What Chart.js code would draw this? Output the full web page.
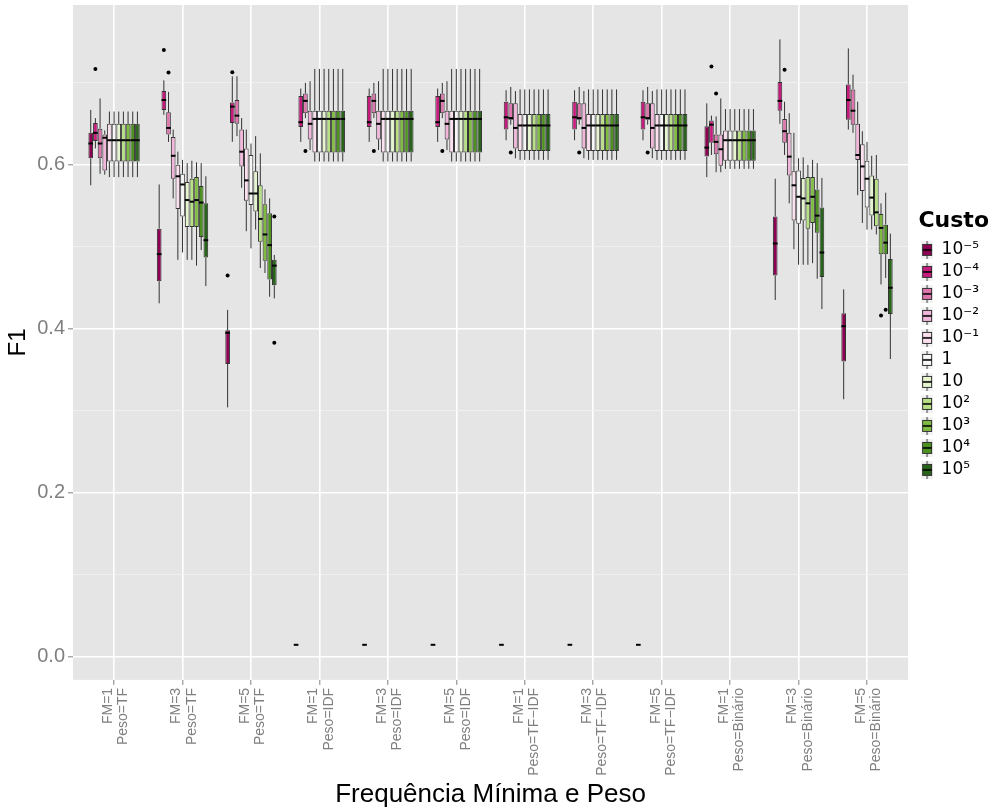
<!DOCTYPE html>
<html>
<head>
<meta charset="utf-8">
<script src="https://cdn.jsdelivr.net/npm/chart.js@4.4.1/dist/chart.umd.min.js"></script>
<style>
  html, body { margin: 0; padding: 0; background: #ffffff; }
</style>
</head>
<body>
<canvas id="f1chart" width="1001" height="810"></canvas>
<script>
// x categories (two line tick labels)
const categories = [
  ['FM=1', 'Peso=TF'], ['FM=3', 'Peso=TF'], ['FM=5', 'Peso=TF'],
  ['FM=1', 'Peso=IDF'], ['FM=3', 'Peso=IDF'], ['FM=5', 'Peso=IDF'],
  ['FM=1', 'Peso=TF\u2212IDF'], ['FM=3', 'Peso=TF\u2212IDF'], ['FM=5', 'Peso=TF\u2212IDF'],
  ['FM=1', 'Peso=Binário'], ['FM=3', 'Peso=Binário'], ['FM=5', 'Peso=Binário']
];

// Custo levels and their colours
const custoLabels = ['10\u207B\u2075', '10\u207B\u2074', '10\u207B\u00B3', '10\u207B\u00B2', '10\u207B\u00B9', '1', '10', '10\u00B2', '10\u00B3', '10\u2074', '10\u2075'];
const custoColors = ['#8E0152', '#C51B7D', '#DE77AE', '#F1B6DA', '#FDE0EF', '#F7F7F7', '#E6F5D0', '#B8E186', '#7FBC41', '#4D9221', '#276419'];

// box stats per category, one row per Custo level: [lower whisker, q1, median, q3, upper whisker]
const fm1TF = [
  [0.575, 0.608, 0.626, 0.639, 0.667],
  [0.620, 0.629, 0.639, 0.651, 0.657],
  [0.589, 0.608, 0.626, 0.644, 0.681],
  [0.588, 0.593, 0.633, 0.637, 0.642],
  [0.585, 0.604, 0.630, 0.650, 0.665],
  [0.585, 0.604, 0.630, 0.650, 0.665],
  [0.585, 0.604, 0.630, 0.650, 0.665],
  [0.585, 0.604, 0.630, 0.650, 0.665],
  [0.585, 0.604, 0.630, 0.650, 0.665],
  [0.585, 0.604, 0.630, 0.650, 0.665],
  [0.585, 0.604, 0.630, 0.650, 0.665]
];
const fm3TF = [
  [0.431, 0.458, 0.491, 0.522, 0.576],
  [0.661, 0.667, 0.679, 0.690, 0.703],
  [0.628, 0.637, 0.645, 0.664, 0.689],
  [0.559, 0.583, 0.611, 0.634, 0.643],
  [0.484, 0.546, 0.586, 0.600, 0.616],
  [0.493, 0.537, 0.576, 0.589, 0.606],
  [0.484, 0.524, 0.557, 0.579, 0.602],
  [0.484, 0.524, 0.555, 0.583, 0.605],
  [0.477, 0.524, 0.557, 0.585, 0.603],
  [0.496, 0.512, 0.554, 0.574, 0.602],
  [0.452, 0.487, 0.508, 0.553, 0.586]
];
const fm5TF = [
  [0.304, 0.357, 0.395, 0.398, 0.423],
  [0.628, 0.651, 0.671, 0.676, 0.708],
  [0.635, 0.650, 0.660, 0.679, 0.708],
  [0.572, 0.598, 0.616, 0.643, 0.657],
  [0.519, 0.556, 0.581, 0.620, 0.643],
  [0.498, 0.551, 0.565, 0.612, 0.626],
  [0.521, 0.543, 0.565, 0.592, 0.635],
  [0.474, 0.506, 0.534, 0.575, 0.614],
  [0.468, 0.483, 0.515, 0.552, 0.570],
  [0.439, 0.460, 0.502, 0.541, 0.559],
  [0.437, 0.453, 0.477, 0.484, 0.490]
];
const fm1IDF = [
  [0.0143, 0.0143, 0.0143, 0.0143, 0.0143],
  [0.628, 0.646, 0.652, 0.684, 0.693],
  [0.657, 0.663, 0.678, 0.687, 0.700],
  [0.618, 0.631, 0.650, 0.666, 0.702],
  [0.604, 0.615, 0.656, 0.666, 0.717],
  [0.604, 0.615, 0.656, 0.666, 0.717],
  [0.604, 0.615, 0.656, 0.666, 0.717],
  [0.604, 0.615, 0.656, 0.666, 0.717],
  [0.604, 0.615, 0.656, 0.666, 0.717],
  [0.604, 0.615, 0.656, 0.666, 0.717],
  [0.604, 0.615, 0.656, 0.666, 0.717]
];
const fm3IDF = [
  [0.0143, 0.0143, 0.0143, 0.0143, 0.0143],
  [0.628, 0.646, 0.652, 0.684, 0.693],
  [0.657, 0.663, 0.678, 0.687, 0.700],
  [0.618, 0.631, 0.650, 0.666, 0.702],
  [0.604, 0.615, 0.656, 0.666, 0.717],
  [0.604, 0.615, 0.656, 0.666, 0.717],
  [0.604, 0.615, 0.656, 0.666, 0.717],
  [0.604, 0.615, 0.656, 0.666, 0.717],
  [0.604, 0.615, 0.656, 0.666, 0.717],
  [0.604, 0.615, 0.656, 0.666, 0.717],
  [0.604, 0.615, 0.656, 0.666, 0.717]
];
const fm5IDF = [
  [0.0143, 0.0143, 0.0143, 0.0143, 0.0143],
  [0.628, 0.646, 0.652, 0.684, 0.693],
  [0.657, 0.663, 0.678, 0.687, 0.700],
  [0.618, 0.631, 0.650, 0.666, 0.702],
  [0.604, 0.615, 0.656, 0.666, 0.717],
  [0.604, 0.615, 0.656, 0.666, 0.717],
  [0.604, 0.615, 0.656, 0.666, 0.717],
  [0.604, 0.615, 0.656, 0.666, 0.717],
  [0.604, 0.615, 0.656, 0.666, 0.717],
  [0.604, 0.615, 0.656, 0.666, 0.717],
  [0.604, 0.615, 0.656, 0.666, 0.717]
];
const fm1TFIDF = [
  [0.0143, 0.0143, 0.0143, 0.0143, 0.0143],
  [0.630, 0.643, 0.658, 0.677, 0.691],
  [0.649, 0.655, 0.657, 0.675, 0.695],
  [0.608, 0.620, 0.645, 0.675, 0.690],
  [0.606, 0.617, 0.648, 0.662, 0.692],
  [0.606, 0.617, 0.648, 0.662, 0.692],
  [0.606, 0.617, 0.648, 0.662, 0.692],
  [0.606, 0.617, 0.648, 0.662, 0.692],
  [0.606, 0.617, 0.648, 0.662, 0.692],
  [0.606, 0.617, 0.648, 0.662, 0.692],
  [0.606, 0.617, 0.648, 0.662, 0.692]
];
const fm3TFIDF = [
  [0.0143, 0.0143, 0.0143, 0.0143, 0.0143],
  [0.630, 0.643, 0.658, 0.677, 0.691],
  [0.649, 0.655, 0.657, 0.675, 0.695],
  [0.608, 0.620, 0.645, 0.675, 0.690],
  [0.606, 0.617, 0.648, 0.662, 0.692],
  [0.606, 0.617, 0.648, 0.662, 0.692],
  [0.606, 0.617, 0.648, 0.662, 0.692],
  [0.606, 0.617, 0.648, 0.662, 0.692],
  [0.606, 0.617, 0.648, 0.662, 0.692],
  [0.606, 0.617, 0.648, 0.662, 0.692],
  [0.606, 0.617, 0.648, 0.662, 0.692]
];
const fm5TFIDF = [
  [0.0143, 0.0143, 0.0143, 0.0143, 0.0143],
  [0.630, 0.643, 0.658, 0.677, 0.691],
  [0.649, 0.655, 0.657, 0.675, 0.695],
  [0.608, 0.620, 0.645, 0.675, 0.690],
  [0.606, 0.617, 0.648, 0.662, 0.692],
  [0.606, 0.617, 0.648, 0.662, 0.692],
  [0.606, 0.617, 0.648, 0.662, 0.692],
  [0.606, 0.617, 0.648, 0.662, 0.692],
  [0.606, 0.617, 0.648, 0.662, 0.692],
  [0.606, 0.617, 0.648, 0.662, 0.692],
  [0.606, 0.617, 0.648, 0.662, 0.692]
];
const fm1Bin = [
  [0.585, 0.610, 0.621, 0.647, 0.675],
  [0.612, 0.627, 0.649, 0.654, 0.660],
  [0.591, 0.613, 0.628, 0.637, 0.659],
  [0.591, 0.599, 0.619, 0.637, 0.681],
  [0.595, 0.605, 0.630, 0.642, 0.668],
  [0.595, 0.605, 0.630, 0.642, 0.668],
  [0.595, 0.605, 0.630, 0.642, 0.668],
  [0.595, 0.605, 0.630, 0.642, 0.668],
  [0.595, 0.605, 0.630, 0.642, 0.668],
  [0.595, 0.605, 0.630, 0.642, 0.668],
  [0.595, 0.605, 0.630, 0.642, 0.668]
];
const fm3Bin = [
  [0.435, 0.465, 0.504, 0.537, 0.583],
  [0.650, 0.666, 0.678, 0.701, 0.753],
  [0.612, 0.627, 0.641, 0.656, 0.677],
  [0.553, 0.587, 0.610, 0.639, 0.663],
  [0.497, 0.532, 0.575, 0.592, 0.639],
  [0.478, 0.528, 0.561, 0.593, 0.608],
  [0.478, 0.532, 0.559, 0.584, 0.609],
  [0.478, 0.522, 0.553, 0.585, 0.600],
  [0.480, 0.529, 0.561, 0.585, 0.606],
  [0.461, 0.517, 0.538, 0.570, 0.602],
  [0.424, 0.463, 0.493, 0.548, 0.584]
];
const fm5Bin = [
  [0.314, 0.360, 0.403, 0.419, 0.448],
  [0.643, 0.655, 0.679, 0.698, 0.742],
  [0.639, 0.649, 0.666, 0.692, 0.710],
  [0.563, 0.606, 0.612, 0.650, 0.677],
  [0.529, 0.568, 0.598, 0.625, 0.641],
  [0.521, 0.548, 0.583, 0.605, 0.628],
  [0.521, 0.538, 0.560, 0.587, 0.611],
  [0.515, 0.525, 0.542, 0.583, 0.612],
  [0.454, 0.491, 0.523, 0.540, 0.553],
  [0.462, 0.491, 0.505, 0.527, 0.566],
  [0.363, 0.418, 0.450, 0.485, 0.516]
];
const boxStats = [fm1TF, fm3TF, fm5TF, fm1IDF, fm3IDF, fm5IDF, fm1TFIDF, fm3TFIDF, fm5TFIDF, fm1Bin, fm3Bin, fm5Bin];

// outliers: [category index, Custo index, F1]
const outliers = [
  [0, 1, 0.717],
  [1, 1, 0.740], [1, 2, 0.7125],
  [2, 0, 0.465], [2, 1, 0.713], [2, 10, 0.537], [2, 10, 0.383],
  [3, 2, 0.617], [4, 2, 0.617], [5, 2, 0.617],
  [6, 2, 0.615], [7, 2, 0.615], [8, 2, 0.615],
  [9, 1, 0.720], [9, 2, 0.687],
  [10, 2, 0.716],
  [11, 8, 0.416], [11, 9, 0.423]
];

const yTicks = [0, 0.1, 0.2, 0.3, 0.4, 0.5, 0.6, 0.7];

const FONT = "'Liberation Sans', Arial, Helvetica, sans-serif";
const LEGEND_FONT = "'DejaVu Sans', 'Liberation Sans', sans-serif";

// small boxplot glyphs for the legend keys
function legendIcon(color) {
  const c = document.createElement('canvas');
  c.width = 20; c.height = 18;
  const g = c.getContext('2d');
  g.fillStyle = '#F2F2F2';
  g.fillRect(8, 0, 12, 18);
  g.strokeStyle = '#333333';
  g.lineWidth = 1;
  g.beginPath(); g.moveTo(14, 0); g.lineTo(14, 18); g.stroke();
  g.fillStyle = color;
  g.fillRect(9.5, 3.5, 9, 11);
  g.strokeRect(9.5, 3.5, 9, 11);
  g.strokeStyle = '#000000';
  g.lineWidth = 1.6;
  g.beginPath(); g.moveTo(9.5, 9); g.lineTo(18.5, 9); g.stroke();
  return c;
}
const icons = custoColors.map(legendIcon);

const datasets = custoLabels.map((lab, j) => ({
  label: lab,
  data: boxStats.map((rows, i) => ({ x: i + 1, y: [rows[j][1], rows[j][3]] })),
  backgroundColor: custoColors[j],
  borderColor: '#333333',
  borderWidth: 1,
  borderSkipped: false,
  inflateAmount: 0,
  categoryPercentage: 0.75,
  barPercentage: 1.0
}));

const panelBg = {
  id: 'panelBg',
  beforeDraw(chart) {
    const { ctx, chartArea: a } = chart;
    ctx.save();
    ctx.fillStyle = '#E5E5E5';
    ctx.fillRect(a.left, a.top, a.right - a.left, a.bottom - a.top);
    ctx.restore();
  }
};

const boxParts = {
  id: 'boxParts',
  beforeDatasetsDraw(chart) {
    const ctx = chart.ctx, y = chart.scales.y;
    ctx.save();
    ctx.strokeStyle = '#333333';
    ctx.lineWidth = 1;
    chart.data.datasets.forEach((ds, j) => {
      if (!chart.isDatasetVisible(j)) return;
      chart.getDatasetMeta(j).data.forEach((bar, i) => {
        const s = boxStats[i][j];
        ctx.beginPath();
        ctx.moveTo(bar.x, y.getPixelForValue(s[4]));
        ctx.lineTo(bar.x, y.getPixelForValue(s[3]));
        ctx.moveTo(bar.x, y.getPixelForValue(s[1]));
        ctx.lineTo(bar.x, y.getPixelForValue(s[0]));
        ctx.stroke();
      });
    });
    ctx.restore();
  },
  afterDatasetsDraw(chart) {
    const ctx = chart.ctx, y = chart.scales.y;
    ctx.save();
    ctx.strokeStyle = '#000000';
    ctx.lineWidth = 2;
    chart.data.datasets.forEach((ds, j) => {
      if (!chart.isDatasetVisible(j)) return;
      chart.getDatasetMeta(j).data.forEach((bar, i) => {
        const m = y.getPixelForValue(boxStats[i][j][2]);
        ctx.beginPath();
        ctx.moveTo(bar.x - bar.width / 2, m);
        ctx.lineTo(bar.x + bar.width / 2, m);
        ctx.stroke();
      });
    });
    ctx.fillStyle = '#000000';
    outliers.forEach(([i, j, v]) => {
      if (!chart.isDatasetVisible(j)) return;
      const bar = chart.getDatasetMeta(j).data[i];
      ctx.beginPath();
      ctx.arc(bar.x, y.getPixelForValue(v), 2, 0, Math.PI * 2);
      ctx.fill();
    });
    ctx.restore();
  }
};

const chart = new Chart(document.getElementById('f1chart'), {
  type: 'bar',
  data: { datasets: datasets },
  options: {
    responsive: false,
    devicePixelRatio: 1,
    animation: false,
    layout: { padding: { top: 5, right: 12, bottom: 0, left: 0 } },
    plugins: {
      tooltip: { enabled: false },
      legend: {
        position: 'right',
        align: 'start',
        title: {
          display: true,
          text: 'Custo',
          position: 'end',
          color: '#000000',
          padding: { top: 205, bottom: 0 },
          font: { family: LEGEND_FONT, size: 22, weight: 'bold' }
        },
        labels: {
          usePointStyle: true,
          pointStyleWidth: 20,
          padding: 5,
          color: '#000000',
          font: { family: LEGEND_FONT, size: 17 },
          generateLabels: (chart) => custoLabels.map((lab, j) => ({
            text: lab,
            datasetIndex: j,
            pointStyle: icons[j],
            fillStyle: custoColors[j],
            strokeStyle: '#333333',
            lineWidth: 1,
            hidden: !chart.isDatasetVisible(j)
          }))
        }
      }
    },
    scales: {
      x: {
        type: 'linear',
        min: 0.4,
        max: 12.6,
        offset: false,
        afterBuildTicks: (scale) => { scale.ticks = categories.map((c, i) => ({ value: i + 1 })); },
        grid: {
          offset: false,
          color: '#FFFFFF',
          lineWidth: 1.6,
          tickColor: '#7F7F7F',
          tickLength: 5,
          tickWidth: 1
        },
        border: { display: false },
        ticks: {
          autoSkip: false,
          minRotation: 90,
          maxRotation: 90,
          padding: 3,
          labelOffset: -6,
          color: '#7F7F7F',
          font: { family: FONT, size: 14, lineHeight: 1.1 },
          callback: (v) => categories[Math.round(v) - 1]
        },
        title: {
          display: true,
          text: 'Frequência Mínima e Peso',
          color: '#000000',
          padding: { top: 0, bottom: 0 },
          font: { family: FONT, size: 26 }
        }
      },
      y: {
        min: -0.0285,
        max: 0.795,
        afterBuildTicks: (scale) => { scale.ticks = yTicks.map(v => ({ value: v })); },
        grid: {
          color: (c) => (c.index % 2 === 0 ? '#FFFFFF' : '#F2F2F2'),
          lineWidth: (c) => (c.index % 2 === 0 ? 1.6 : 0.8),
          tickColor: (c) => (c.index % 2 === 0 ? '#7F7F7F' : 'rgba(0,0,0,0)'),
          tickLength: 5,
          tickWidth: 1
        },
        border: { display: false },
        ticks: {
          padding: 3,
          color: '#7F7F7F',
          font: (c) => ({ family: FONT, size: c.index % 2 === 0 ? 20 : 1 }),
          callback: (v, idx) => (idx % 2 === 0 ? v.toFixed(1) : '')
        },
        title: {
          display: true,
          text: 'F1',
          color: '#000000',
          padding: { top: 4, bottom: 1.4 },
          font: { family: FONT, size: 24 }
        }
      }
    }
  },
  plugins: [panelBg, boxParts]
});
</script>
</body>
</html>
